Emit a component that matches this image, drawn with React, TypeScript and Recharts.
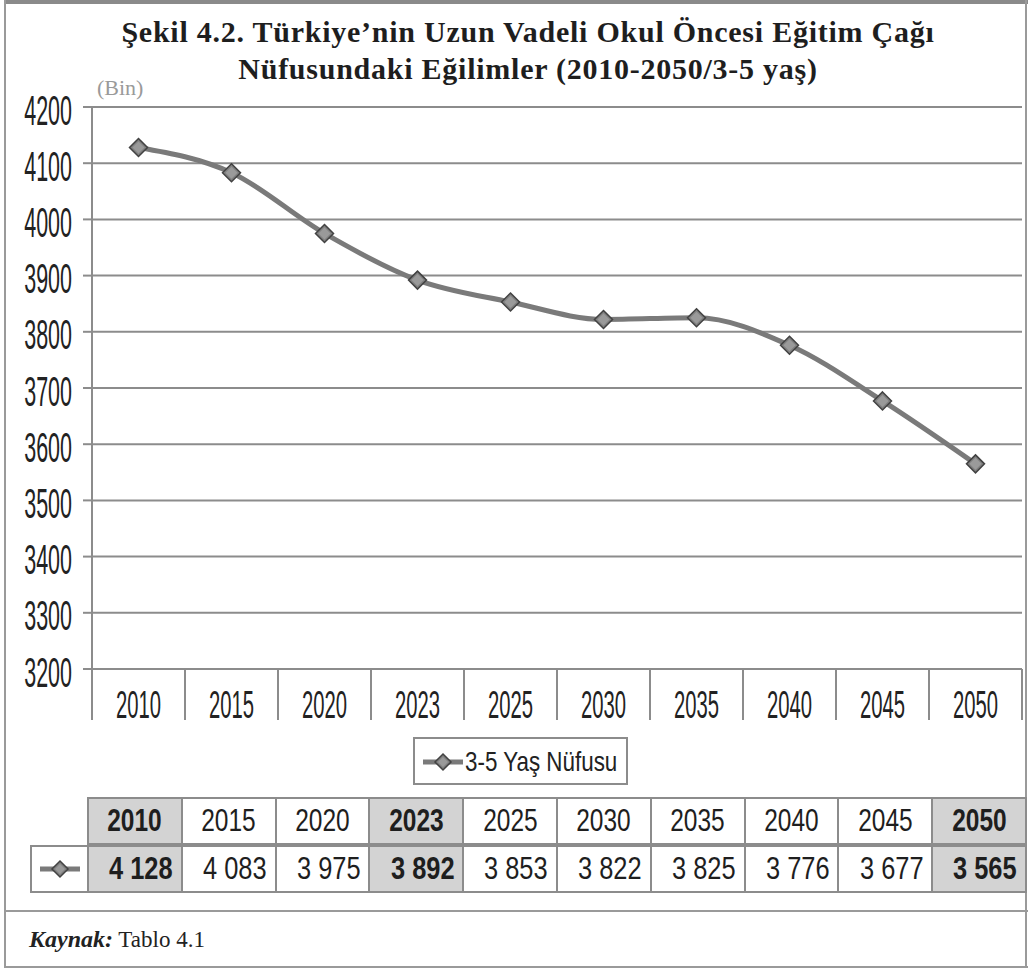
import { CartesianGrid, Legend, Line, LineChart, XAxis, YAxis } from 'recharts'

const years = ['2010', '2015', '2020', '2023', '2025', '2030', '2035', '2040', '2045', '2050']
const population = [4128, 4083, 3975, 3892, 3853, 3822, 3825, 3776, 3677, 3565]
const yTicks = [3200, 3300, 3400, 3500, 3600, 3700, 3800, 3900, 4000, 4100, 4200]
const highlightYears = ['2010', '2023', '2050']

const seriesName = '3-5 Yaş Nüfusu'
const titleLines = [
  'Şekil 4.2. Türkiye’nin Uzun Vadeli Okul Öncesi Eğitim Çağı',
  'Nüfusundaki Eğilimler (2010-2050/3-5 yaş)',
]
const unitLabel = '(Bin)'
const sourceLabel = 'Kaynak:'
const sourceText = 'Tablo 4.1'

const data = years.map((year, i) => ({ year, value: population[i] }))

// no Arial Narrow here, so Liberation Sans gets squeezed sideways instead
const SANS = '"Liberation Sans", Arimo, Arial, sans-serif'
const SERIF = '"Liberation Serif", "DejaVu Serif", serif'
const GRID = '#8c8c8c'
const LINE = '#7a7a7a'
const STEP = 93

// thousands with a space, as in the source table
const fmt = (v: number) => String(v).replace(/\B(?=(\d{3})+(?!\d))/g, ' ')

function Narrow({ children, sx = 0.82, origin = 'center' }: any) {
  return (
    <span
      style={{
        display: 'inline-block',
        whiteSpace: 'nowrap',
        transform: `scaleX(${sx})`,
        transformOrigin: origin,
      }}
    >
      {children}
    </span>
  )
}

function Diamond({ cx, cy, size = 9 }: { cx: number; cy: number; size?: number }) {
  return (
    <g>
      <polygon
        points={`${cx},${cy - size} ${cx + size},${cy} ${cx},${cy + size} ${cx - size},${cy}`}
        fill="#808080"
        stroke="#424242"
        strokeWidth={1.5}
      />
      <polygon
        points={`${cx},${cy - size + 3} ${cx + size - 3},${cy} ${cx},${cy + size - 3} ${cx - size + 3},${cy}`}
        fill="#9a9a9a"
      />
    </g>
  )
}

function YTick({ x, y, payload }: any) {
  return (
    <g transform={`translate(${x},${y}) scale(0.86,1.68)`}>
      <text x={0} y={0} dy="0.42em" textAnchor="end" fontFamily={SANS} fontSize={25} fill="#222">
        {payload.value}
      </text>
    </g>
  )
}

function XTick({ x, y, payload, index }: any) {
  const half = STEP / 2
  return (
    <g>
      <line x1={x - half} x2={x - half} y1={y} y2={y + 51} stroke={GRID} strokeWidth={2} />
      {index === years.length - 1 && (
        <line x1={x + half} x2={x + half} y1={y} y2={y + 51} stroke={GRID} strokeWidth={2} />
      )}
      <g transform={`translate(${x},${y + 35}) scale(0.81,1.56)`}>
        <text x={0} y={0} dy="0.36em" textAnchor="middle" fontFamily={SANS} fontSize={25} fill="#222">
          {payload.value}
        </text>
      </g>
    </g>
  )
}

function LineIcon() {
  return (
    <svg width={44} height={22} style={{ display: 'block', flexShrink: 0 }}>
      <line x1={2} x2={42} y1={11} y2={11} stroke={LINE} strokeWidth={5} />
      <Diamond cx={22} cy={11} size={8} />
    </svg>
  )
}

function LegendBox({ payload }: any) {
  const name = payload && payload[0] ? payload[0].value : seriesName
  return (
    <div
      style={{
        position: 'relative',
        boxSizing: 'border-box',
        width: 215,
        height: 48,
        border: `2px solid ${GRID}`,
        background: '#fff',
      }}
    >
      <div style={{ position: 'absolute', left: 6, top: 12 }}>
        <LineIcon />
      </div>
      <div
        style={{
          position: 'absolute',
          left: 50,
          top: 7,
          fontFamily: SANS,
          fontSize: 28,
          lineHeight: '32px',
          color: '#222',
        }}
      >
        <Narrow sx={0.8} origin="left">{name}</Narrow>
      </div>
    </div>
  )
}

function DataTable() {
  const left = 87
  const colW = 93.8
  const rowH = 48
  const top = 797
  const cell = (highlight: boolean): any => ({
    position: 'absolute',
    boxSizing: 'border-box',
    height: rowH,
    border: `2px solid ${GRID}`,
    background: highlight ? '#d3d3d3' : '#fff',
    fontFamily: SANS,
    fontSize: 31,
    fontWeight: highlight ? 700 : 400,
    color: '#1e1e1e',
    display: 'flex',
    alignItems: 'center',
    whiteSpace: 'nowrap',
    overflow: 'hidden',
  })
  return (
    <>
      {years.map((year, i) => {
        const hl = highlightYears.includes(year)
        return (
          <div
            key={`h${year}`}
            style={{ ...cell(hl), left: left + i * colW, top, width: colW + 2, justifyContent: 'center' }}
          >
            <Narrow sx={0.79}>{year}</Narrow>
          </div>
        )
      })}
      <div style={{ ...cell(false), left: 30, top: top + rowH, width: left - 30 + 2, justifyContent: 'center' }}>
        <LineIcon />
      </div>
      {years.map((year, i) => {
        const hl = highlightYears.includes(year)
        return (
          <div
            key={`v${year}`}
            style={{
              ...cell(hl),
              left: left + i * colW,
              top: top + rowH,
              width: colW + 2,
              justifyContent: 'flex-end',
              paddingRight: 8,
            }}
          >
            <Narrow sx={0.82} origin="right">{fmt(population[i])}</Narrow>
          </div>
        )
      })}
    </>
  )
}

export default function App() {
  return (
    <div style={{ position: 'relative', width: 1028, height: 968, background: '#fff' }}>
      <style>{'body{margin:0}'}</style>

      {/* frame */}
      <div style={{ position: 'absolute', left: 4, top: 0, width: 1024, height: 4, background: '#8a8a8a' }} />
      <div style={{ position: 'absolute', left: 4, top: 0, width: 2, height: 968, background: '#9a9a9a' }} />
      <div style={{ position: 'absolute', left: 1025, top: 0, width: 2, height: 968, background: '#9a9a9a' }} />
      <div style={{ position: 'absolute', left: 4, top: 966, width: 1024, height: 2, background: '#9a9a9a' }} />
      <div style={{ position: 'absolute', left: 4, top: 910, width: 1024, height: 2, background: '#9a9a9a' }} />

      {titleLines.map((line, i) => (
        <div
          key={line}
          style={{
            position: 'absolute',
            left: 14,
            width: 1028,
            top: 14 + i * 37,
            textAlign: 'center',
            fontFamily: SERIF,
            fontWeight: 700,
            fontSize: 30,
            letterSpacing: 0.75,
            lineHeight: '36px',
            color: '#1e1e1e',
            whiteSpace: 'nowrap',
          }}
        >
          {line}
        </div>
      ))}

      <div style={{ position: 'absolute', left: 97, top: 75, fontFamily: SERIF, fontSize: 22, color: '#9a9a9a' }}>
        {unitLabel}
      </div>

      <div style={{ position: 'absolute', left: 0, top: 0 }}>
        <LineChart width={1028} height={968} data={data} margin={{ top: 107, right: 6, bottom: 248, left: 0 }}>
          <CartesianGrid vertical={false} stroke={GRID} strokeWidth={2} />
          <XAxis
            dataKey="year"
            height={51}
            interval={0}
            padding={{ left: STEP / 2, right: STEP / 2 }}
            axisLine={false}
            tickLine={false}
            tickSize={0}
            tickMargin={0}
            tick={<XTick />}
          />
          <YAxis
            domain={[3200, 4200]}
            ticks={yTicks}
            width={92}
            interval={0}
            tickSize={9}
            tickMargin={11}
            axisLine={{ stroke: GRID, strokeWidth: 2 }}
            tickLine={{ stroke: GRID, strokeWidth: 2 }}
            tick={<YTick />}
          />
          <YAxis
            yAxisId="right"
            orientation="right"
            width={0}
            tick={false}
            tickLine={false}
            axisLine={{ stroke: GRID, strokeWidth: 2 }}
          />
          <Legend
            layout="horizontal"
            verticalAlign="middle"
            align="center"
            wrapperStyle={{ top: 737, left: 413, width: 215, height: 48 }}
            content={<LegendBox />}
          />
          <Line
            type="monotone"
            dataKey="value"
            name={seriesName}
            stroke={LINE}
            strokeWidth={5}
            isAnimationActive={false}
            dot={(p: any) => <Diamond key={`d${p.index}`} cx={p.cx} cy={p.cy} />}
            activeDot={false}
          />
        </LineChart>
      </div>

      <DataTable />

      <div style={{ position: 'absolute', left: 29, top: 926, fontFamily: SERIF, color: '#222', whiteSpace: 'nowrap' }}>
        <span style={{ fontWeight: 700, fontStyle: 'italic', fontSize: 24 }}>{sourceLabel}</span>
        <span style={{ fontSize: 23 }}> {sourceText}</span>
      </div>
    </div>
  )
}
